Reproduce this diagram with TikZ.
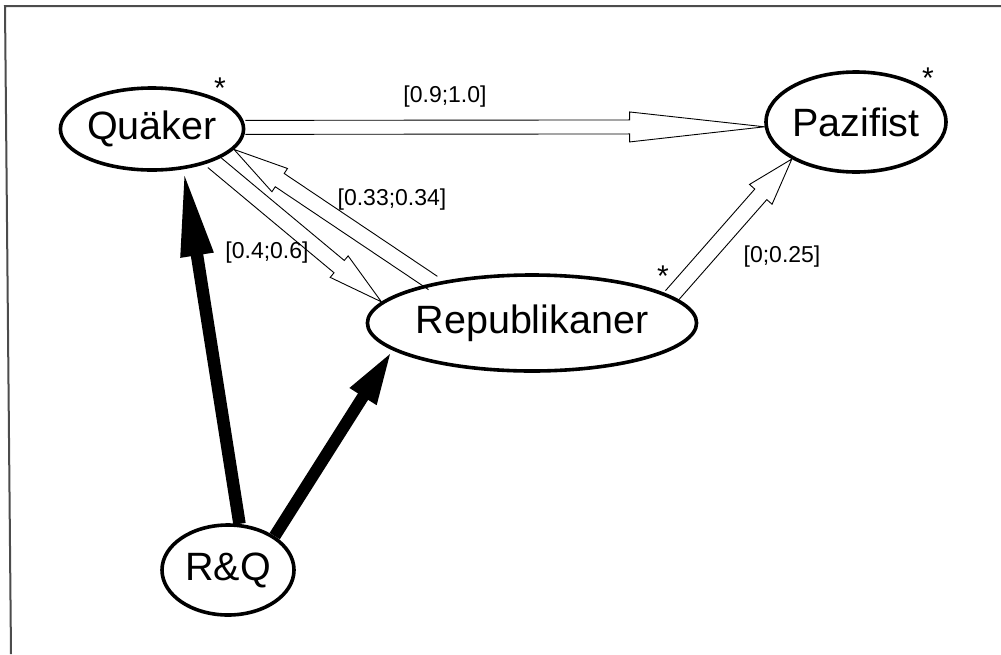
\documentclass[tikz,border=0pt]{standalone}
\usepackage{fontspec}
\setmainfont{Liberation Sans}
\usetikzlibrary{shapes.geometric,calc,arrows.meta}
\newcommand{\harrow}[5]{%
  \coordinate (hb) at ($(#2)!#5!(#1)$);
  \draw[hollowline] ($(#1)!#3!90:(#2)$) -- ($(hb)!#3!90:(#2)$) -- ($(hb)!#4!90:(#2)$) -- (#2)
    -- ($(hb)!#4!-90:(#2)$) -- ($(hb)!#3!-90:(#2)$) -- ($(#1)!#3!-90:(#2)$);
}
\tikzset{
  ell/.style={ellipse, draw, line width=3.6pt, inner sep=0pt, font=\fontsize{39.5}{45}\selectfont},
  lab/.style={font=\fontsize{23}{27}\selectfont, inner sep=0pt},
  starlab/.style={font=\fontsize{30}{34}\selectfont, inner sep=0pt, anchor=base},
  hollowline/.style={line width=0.9pt, line join=miter},
  frame/.style={line width=2pt, draw=black!70}
}
\begin{document}
\begin{tikzpicture}[x=1pt,y=-1pt]
\useasboundingbox (0,0) rectangle (1001,654);
\coordinate (f1) at (5,6);
\coordinate (f2) at (1001,6);
\coordinate (f3) at (11,654);
\draw[frame] (f2) -- (f1) -- (f3);

\node[ell, minimum width=174pt, minimum height=82pt] (q) at (152,129) {Quäker};
\node[ell, minimum width=166pt, minimum height=100pt] (p) at (856,122) {Pazifist};
\node[ell, minimum width=282pt, minimum height=96pt] (r) at (532,323) {Republikaner};
\node[ell, minimum width=132pt, minimum height=90pt] (rq) at (228,570) {R\&Q};

\node[starlab] (sq) at (220,98) {*};
\node[starlab] (sp) at (928,88) {*};
\node[starlab] (sr) at (663,286) {*};

% hollow arrows
\harrow{q.1.5}{p.183.5}{7pt}{15pt}{135pt}
\harrow{q.-28}{r.172}{8pt}{14pt}{55pt}
\harrow{r.158}{q.-14}{8pt}{14pt}{55pt}
\harrow{r.11}{p.210}{8pt}{15pt}{47pt}

% thick arrows
\draw[line width=12.5pt, -{Triangle[length=87pt,width=30pt]}] (rq.76) -- (q.-52);
\draw[line width=12pt, -{Triangle[length=55pt,width=28pt]}] (rq.36) -- (r.191);

% labels
\node[lab] (l1) at (445,97) {[0.9;1.0]};
\node[lab] (l2) at (392,200) {[0.33;0.34]};
\node[lab] (l3) at (267,253) {[0.4;0.6]};
\node[lab] (l4) at (782,257) {[0;0.25]};
\end{tikzpicture}
\end{document}
